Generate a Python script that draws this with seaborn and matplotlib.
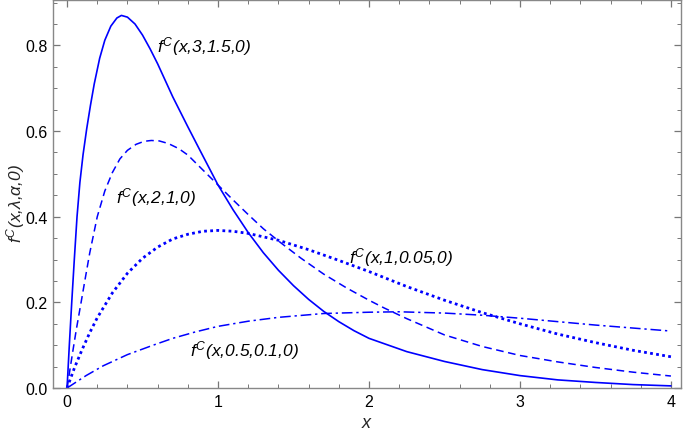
import numpy as np
import pandas as pd
import matplotlib
matplotlib.use("Agg")
import matplotlib.pyplot as plt
import seaborn as sns
from matplotlib.ticker import MultipleLocator

# ---- data ----
x_solid = [0, 0.015, 0.031, 0.048, 0.066, 0.085, 0.106, 0.13, 0.155, 0.18, 0.216, 0.25, 0.29, 0.33, 0.36,
           0.40, 0.45, 0.50, 0.55, 0.6, 0.7, 0.8, 0.879, 1.0, 1.1, 1.2, 1.3, 1.4, 1.5, 1.6,
           1.7, 1.8, 1.9, 2.0, 2.25, 2.5, 2.75, 3.0, 3.25, 3.5, 3.75, 4.0]
y_solid = [0, 0.10, 0.20, 0.30, 0.40, 0.48, 0.545, 0.605, 0.66, 0.71, 0.77, 0.812, 0.845, 0.864, 0.870,
           0.866, 0.850, 0.824, 0.792, 0.757, 0.680, 0.610, 0.556, 0.474, 0.416, 0.363, 0.316, 0.275, 0.239, 0.207,
           0.179, 0.155, 0.134, 0.116, 0.085, 0.062, 0.043, 0.029, 0.019, 0.013, 0.008, 0.005]

x_dash = [0, 0.02, 0.04, 0.062, 0.093, 0.12, 0.15, 0.2, 0.25, 0.3, 0.35, 0.4, 0.457,
          0.51, 0.558, 0.61, 0.67, 0.74, 0.8, 0.9, 1.0, 1.1, 1.2, 1.3, 1.42, 1.55, 1.7, 1.85,
          2.0, 2.1, 2.25, 2.5, 2.75, 3.0, 3.25, 3.5, 3.75, 4.0]
y_dash = [0, 0.045, 0.09, 0.138, 0.20, 0.255, 0.315, 0.40, 0.460, 0.503, 0.535, 0.555, 0.569,
          0.576, 0.578, 0.577, 0.571, 0.559, 0.544, 0.509, 0.474, 0.439, 0.405, 0.372, 0.338, 0.303, 0.266, 0.234,
          0.205, 0.187, 0.162, 0.124, 0.097, 0.076, 0.061, 0.048, 0.037, 0.028]

x_dot = [0, 0.05, 0.1, 0.15, 0.2, 0.3, 0.4, 0.5, 0.6, 0.7, 0.8, 0.9, 1.0, 1.1, 1.2, 1.4, 1.6,
         1.8, 2.0, 2.25, 2.5, 2.75, 3.0, 3.25, 3.5, 3.75, 4.0]
y_dot = [0, 0.048, 0.090, 0.129, 0.164, 0.222, 0.268, 0.303, 0.329, 0.348, 0.359, 0.366, 0.368, 0.366,
         0.361, 0.345, 0.323, 0.298, 0.272, 0.237, 0.205, 0.176, 0.150, 0.126, 0.106, 0.088, 0.073]

x_dd = [0, 0.126, 0.24, 0.4, 0.57, 0.7, 0.85, 1.0, 1.2, 1.4, 1.7, 2.0, 2.2, 2.5, 2.75,
        3.0, 3.25, 3.5, 3.75, 4.0]
y_dd = [0, 0.029, 0.052, 0.078, 0.100, 0.116, 0.131, 0.144, 0.156, 0.165, 0.174, 0.177, 0.178,
        0.175, 0.170, 0.163, 0.155, 0.147, 0.140, 0.133]

labels = [r"$f^{C}(x{,}3{,}1.5{,}0)$", r"$f^{C}(x{,}2{,}1{,}0)$",
          r"$f^{C}(x{,}1{,}0.05{,}0)$", r"$f^{C}(x{,}0.5{,}0.1{,}0)$"]
label_x = [0.596, 0.325, 1.87, 0.815]
label_y = [0.80, 0.447, 0.307, 0.09]
x_ticks = [0, 1, 2, 3, 4]
y_ticks = [0.0, 0.2, 0.4, 0.6, 0.8]

sns.set_style("ticks")
plt.rcParams["font.family"] = ["Liberation Sans", "DejaVu Sans"]
plt.rcParams["mathtext.fontset"] = "custom"
plt.rcParams["mathtext.rm"] = "Liberation Sans:italic"
plt.rcParams["mathtext.it"] = "Liberation Sans:italic"

fig = plt.figure(figsize=(6.85, 4.35), dpi=100)
ax = fig.add_axes([0.0774, 0.1057, 0.9166, 0.891])

blue = "#0000ff"
curves = [
    (x_solid, y_solid, dict(linestyle="-", linewidth=1.2)),
    (x_dash, y_dash, dict(linestyle=(0, (5, 3)), linewidth=1.1)),
    (x_dot, y_dot, dict(linestyle=(0, (1, 1.2)), linewidth=2.0)),
    (x_dd, y_dd, dict(linestyle=(0, (7, 2.5, 1.5, 2.5)), linewidth=1.1)),
]
for xs, ys, st in curves:
    df = pd.DataFrame({"x": xs, "y": ys})
    sns.lineplot(data=df, x="x", y="y", ax=ax, color=blue, sort=False, **st)

for t, lx, ly in zip(labels, label_x, label_y):
    ax.text(lx, ly, t, fontsize=12.5, va="center", ha="left", color="black")

ax.set_xlim(-0.093, 4.066)
ax.set_ylim(0, 0.905)
ax.set_xticks(x_ticks)
ax.set_yticks(y_ticks)
ax.set_xticklabels([str(v) for v in x_ticks])
ax.set_yticklabels([f"{v:.1f}" for v in y_ticks])
ax.xaxis.set_minor_locator(MultipleLocator(0.2))
ax.yaxis.set_minor_locator(MultipleLocator(0.05))
ax.tick_params(which="both", direction="in", top=True, right=True, color="#777777",
               labelsize=11.5, labelcolor="black", pad=4)
ax.tick_params(which="major", length=5, width=0.9)
ax.tick_params(which="minor", length=3, width=0.7)
for sp in ax.spines.values():
    sp.set_color("#888888")
    sp.set_linewidth(1.0)

ax.set_xlabel(r"$x$", fontsize=13)
ax.set_ylabel(r"$f^{C}(x{,}\lambda{,}\alpha{,}0)$", fontsize=12.5)
ax.xaxis.set_label_coords(0.5, -0.068)
ax.yaxis.set_label_coords(-0.041, 0.48)

fig.savefig("out.png", dpi=100)
